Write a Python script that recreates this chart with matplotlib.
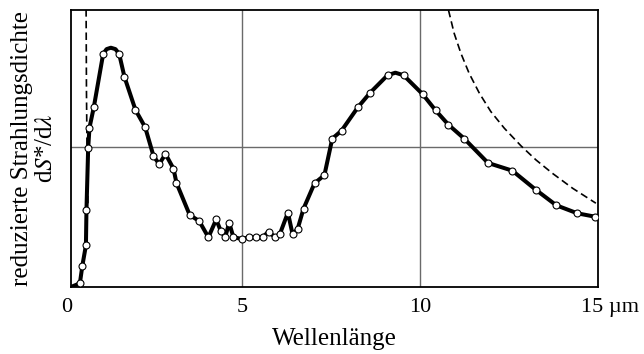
import numpy as np
import matplotlib
matplotlib.use("Agg")
import matplotlib.pyplot as plt
import matplotlib.transforms as mtransforms

plt.rcParams['font.family'] = ['Liberation Serif', 'DejaVu Serif']
plt.rcParams['mathtext.fontset'] = 'stix'

# measured spectrum (wavelength in um, reduced density in units of the grid line)
wl = [0.20, 0.45, 0.52, 0.62, 0.635, 0.683, 0.72, 0.843, 1.104, 1.20, 1.32, 1.45, 1.553,
      1.702, 2.011, 2.284, 2.517, 2.677, 2.854, 3.079, 3.163, 3.534, 3.801, 4.059, 4.278,
      4.404, 4.531, 4.643, 4.761, 5.000, 5.205, 5.393, 5.579, 5.747, 5.935, 6.067, 6.292,
      6.421, 6.562, 6.730, 7.039, 7.317, 7.537, 7.798, 8.258, 8.604, 9.090, 9.31, 9.539,
      10.079, 10.438, 10.801, 11.244, 11.910, 12.593, 13.247, 13.829, 14.419, 14.916]
dens = [0.00, 0.026, 0.152, 0.297, 0.547, 0.989, 1.135, 1.283, 1.661, 1.695, 1.705, 1.695, 1.661,
        1.497, 1.262, 1.138, 0.934, 0.875, 0.948, 0.843, 0.741, 0.513, 0.470, 0.354, 0.481,
        0.401, 0.355, 0.458, 0.355, 0.342, 0.354, 0.354, 0.354, 0.394, 0.354, 0.378, 0.530,
        0.378, 0.411, 0.558, 0.739, 0.797, 1.057, 1.114, 1.281, 1.385, 1.509, 1.527, 1.509,
        1.373, 1.259, 1.156, 1.057, 0.884, 0.829, 0.694, 0.582, 0.525, 0.501]
# which of the points above carry a circle marker
marked = [0, 1, 1, 1, 1, 1, 1, 1, 1, 0, 0, 0, 1,
          1, 1, 1, 1, 1, 1, 1, 1, 1, 1, 1, 1,
          1, 1, 1, 1, 1, 1, 1, 1, 1, 1, 1, 1,
          1, 1, 1, 1, 1, 1, 1, 1, 1, 1, 0, 1,
          1, 1, 1, 1, 1, 1, 1, 1, 1, 1]

# dashed reference curves
left_wl = [0.625, 0.635, 0.650, 0.665, 0.680]
left_dens = [1.98, 1.40, 1.00, 0.75, 0.55]
right_wl = [10.80, 10.96, 11.15, 11.38, 11.67, 11.99, 12.37, 12.84, 13.26, 13.72, 14.29, 14.94]
right_dens = [1.974, 1.808, 1.665, 1.523, 1.380, 1.250, 1.131, 1.005, 0.905, 0.810, 0.703, 0.597]

fig = plt.figure(figsize=(6.44, 3.54), dpi=100)
ax = fig.add_axes([0.1102, 0.1893, 0.8184, 0.7825])

ax.axvline(5, color='#6a6a6a', lw=1.0, zorder=1)
ax.axvline(10, color='#6a6a6a', lw=1.0, zorder=1)
ax.axhline(1, color='#6a6a6a', lw=1.0, zorder=1)

ax.plot(left_wl, left_dens, color='black', lw=1.2, ls=(0, (4.5, 2.5)), zorder=2)
ax.plot(right_wl, right_dens, color='black', lw=1.2, ls=(0, (4.5, 2.5)), zorder=2)

ax.plot(wl, dens, color='black', lw=2.9, solid_joinstyle='round', zorder=3)
mx = [x for x, m in zip(wl, marked) if m]
my = [y for y, m in zip(dens, marked) if m]
ax.plot(mx, my, 'o', ms=5, mfc='white', mec='black', mew=0.8, zorder=4)

ax.set_xlim(0.2, 15)
ax.set_ylim(0, 1.974)
ax.set_xticks([0.2, 5, 10, 15])
ax.set_xticklabels(['0', '5', '10', '15 µm'], fontsize=16)
ax.set_yticks([])
ax.tick_params(axis='x', length=0, pad=8)
labels = ax.get_xticklabels()
labels[0].set_transform(labels[0].get_transform() +
                        mtransforms.ScaledTranslation(-4 / 100, 0, fig.dpi_scale_trans))
labels[-1].set_transform(labels[-1].get_transform() +
                         mtransforms.ScaledTranslation(12 / 100, 0, fig.dpi_scale_trans))

for s in ax.spines.values():
    s.set_linewidth(1.3)

ax.set_xlabel('Wellenlänge', fontsize=18, labelpad=8)
ax.set_ylabel('reduzierte Strahlungsdichte\nd$S$*/d$\\lambda$', fontsize=18,
              linespacing=1.15, labelpad=10)

fig.savefig('out.png', dpi=100)
